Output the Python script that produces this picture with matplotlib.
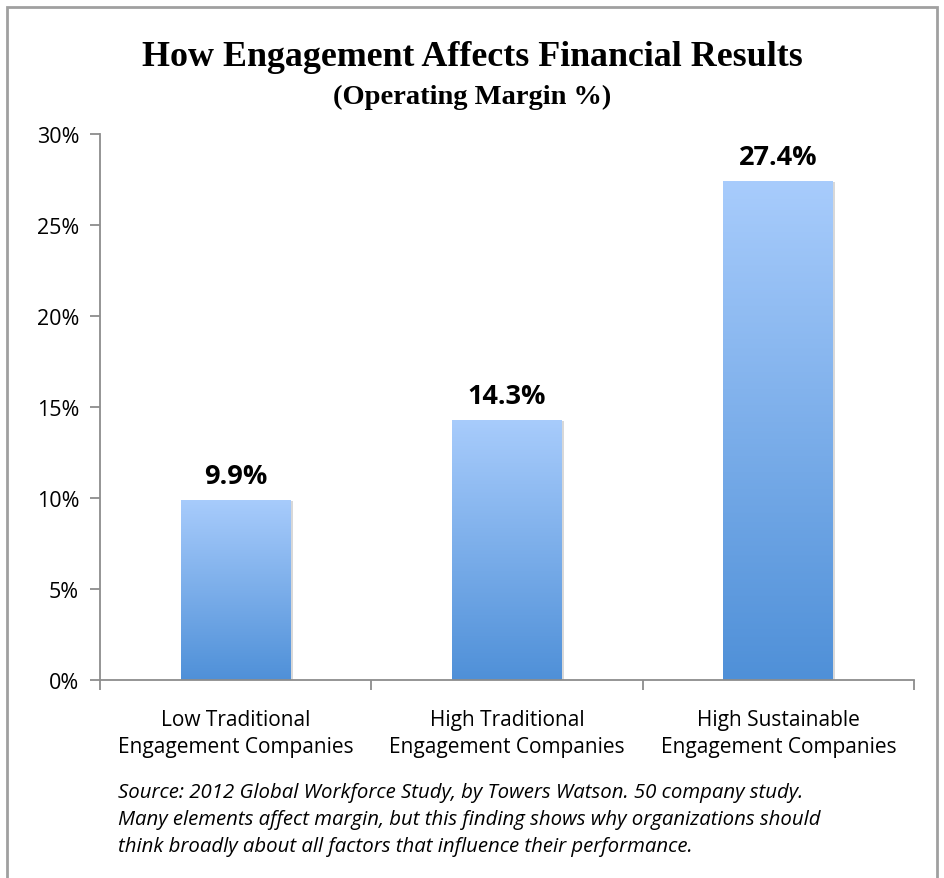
import matplotlib.pyplot as plt
import numpy as np
from matplotlib.patches import Rectangle
from matplotlib.colors import LinearSegmentedColormap

categories = ["Low Traditional\nEngagement Companies",
              "High Traditional\nEngagement Companies",
              "High Sustainable\nEngagement Companies"]
values = [9.9, 14.3, 27.4]
value_labels = ["9.9%", "14.3%", "27.4%"]
yticks = [0, 5, 10, 15, 20, 25, 30]
ytick_labels = ["0%", "5%", "10%", "15%", "20%", "25%", "30%"]

W, H = 944, 879
fig = plt.figure(figsize=(W / 100, H / 100), dpi=100)

# outer grey frame
fig.patches.append(Rectangle((7 / W, -0.05), 930 / W, 1 - 8 / H + 0.05,
                             transform=fig.transFigure, fill=False,
                             edgecolor="#a0a0a0", linewidth=2))

ax = fig.add_axes([100 / W, 1 - 681 / H, 814 / W, 546 / H])

x = np.arange(len(values))
bw = 0.405
cmap = LinearSegmentedColormap.from_list("bar", ["#4f90d8", "#a8ccfc"])
grad = np.linspace(0, 1, 256).reshape(-1, 1)
bars = ax.bar(x, values, width=bw, color="none", edgecolor="none")
for b in bars:
    x0, w, h = b.get_x(), b.get_width(), b.get_height()
    # light shadow
    ax.add_patch(Rectangle((x0 + 0.008, 0), w, h - 0.05, facecolor="#d8d8d8",
                           edgecolor="none", zorder=1))
    im = ax.imshow(grad, extent=[x0, x0 + w, 0, h], origin="lower",
                   cmap=cmap, aspect="auto", zorder=2)
    im.set_clip_path(b)

for xi, v, lab in zip(x, values, value_labels):
    ax.text(xi, v + 0.93, lab, ha="center", va="baseline", fontsize=19.5,
            fontweight="bold", family="Open Sans", color="black")

ax.set_xlim(-0.5, 2.5)
ax.set_ylim(0, 30)
ax.set_yticks(yticks)
ax.set_yticklabels(ytick_labels, family="Open Sans", fontsize=15.5)
ax.set_xticks([-0.5, 0.5, 1.5, 2.5])
ax.set_xticklabels([])
ax.tick_params(axis="x", length=7, direction="out", color="#8c8c8c", width=1.3)
ax.tick_params(axis="y", length=7, direction="out", color="#8c8c8c", width=1.3, pad=8)
for s in ["top", "right"]:
    ax.spines[s].set_visible(False)
for s in ["left", "bottom"]:
    ax.spines[s].set_color("#8c8c8c")
    ax.spines[s].set_linewidth(1.3)

for xi, c in zip(x, categories):
    ax.text(xi, -1.6, c, ha="center", va="top", fontsize=15, family="Open Sans",
            linespacing=1.38)

fig.text(0.5, 1 - 57 / H, "How Engagement Affects Financial Results",
         ha="center", va="center", family="Liberation Serif", fontweight="bold",
         fontsize=25.8)
fig.text(0.5, 1 - 97 / H, "(Operating Margin %)", ha="center", va="center",
         family="Liberation Serif", fontweight="bold", fontsize=20.5)

fig.text(118 / W, 1 - 783 / H,
         "Source: 2012 Global Workforce Study, by Towers Watson. 50 company study.\n"
         "Many elements affect margin, but this finding shows why organizations should\n"
         "think broadly about all factors that influence their performance.",
         ha="left", va="top", fontsize=14.7, style="italic", family="Open Sans",
         linespacing=1.47)

fig.savefig("out.png", dpi=100)
